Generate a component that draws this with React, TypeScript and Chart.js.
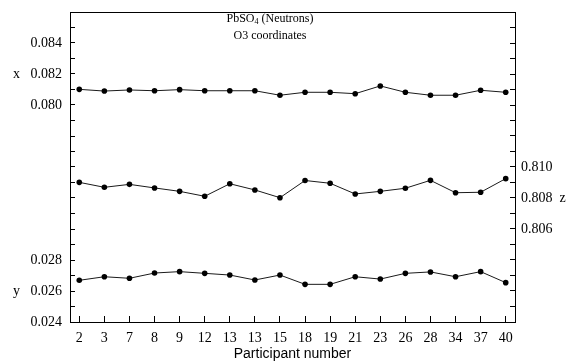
import React, { useEffect, useRef } from 'react';
import { Chart, registerables } from 'chart.js';

Chart.register(...registerables);

// Participant numbers (categories along the bottom axis)
const participants = ['2', '3', '7', '8', '9', '12', '13', '13', '15', '18', '19', '21', '23', '26', '28', '34', '37', '40'];

// O3 x coordinate (upper trace, upper part of left axis)
const xCoord = [0.08101, 0.0809, 0.08097, 0.08092, 0.08099, 0.08092, 0.08092, 0.08092, 0.08063, 0.08082, 0.08082, 0.08073, 0.08123, 0.08082, 0.08063, 0.08063, 0.08095, 0.08082];

// O3 z coordinate (middle trace, right axis)
const zCoord = [0.80901, 0.80869, 0.80888, 0.80865, 0.80843, 0.80811, 0.80892, 0.80852, 0.80802, 0.80913, 0.80895, 0.80826, 0.80843, 0.80863, 0.80914, 0.80834, 0.80837, 0.80925];

// O3 y coordinate (lower trace, lower part of left axis)
const yCoord = [0.02669, 0.02692, 0.02682, 0.02716, 0.02725, 0.02714, 0.02703, 0.02671, 0.02703, 0.02643, 0.02643, 0.02692, 0.02677, 0.02714, 0.02723, 0.02692, 0.02725, 0.02654];

// Labelled tick values
const yTickLabels = [0.024, 0.026, 0.028];
const xTickLabels = [0.08, 0.082, 0.084];
const zTickLabels = [0.806, 0.808, 0.81];

// Axis ranges (in thousandths) – the left axis is broken: the x scale is the y scale shifted
const Y_MIN = 24, Y_MAX = 44;      // y axis 0.024 .. 0.044
const X_SHIFT = 42;                 // x axis = y axis + 0.042
const Z_MIN = 800, Z_MAX = 820;    // z axis 0.800 .. 0.820

const SERIF = "'Liberation Serif', 'Times New Roman', serif";
const SANS = "'Liberation Sans', Arial, sans-serif";

const thousandthTicks = (lo: number, hi: number) => {
  const t: { value: number }[] = [];
  for (let n = lo; n <= hi; n++) t.push({ value: n / 1000 });
  return t;
};

const framePlugin = {
  id: 'frameAndTitle',
  afterDraw(chart: any) {
    const { ctx, chartArea: a } = chart;
    ctx.save();
    ctx.strokeStyle = '#000';
    ctx.lineWidth = 1;
    ctx.beginPath();
    ctx.moveTo(a.left, Math.round(a.top) + 0.5);
    ctx.lineTo(a.right, Math.round(a.top) + 0.5);
    ctx.stroke();

    // Title inside the plot
    ctx.fillStyle = '#000';
    ctx.textBaseline = 'alphabetic';
    const cx = a.left + 200;
    const big = `12px ${SERIF}`;
    const small = `8px ${SERIF}`;
    ctx.font = big;
    const p1 = 'PbSO';
    const p3 = ' (Neutrons)';
    const w1 = ctx.measureText(p1).width;
    const w3 = ctx.measureText(p3).width;
    ctx.font = small;
    const w2 = ctx.measureText('4').width;
    const total = w1 + w2 + w3;
    const x0 = cx - total / 2;
    const base1 = a.top + 10;
    ctx.font = big;
    ctx.textAlign = 'left';
    ctx.fillText(p1, x0, base1);
    ctx.font = small;
    ctx.fillText('4', x0 + w1, base1 + 2);
    ctx.font = big;
    ctx.fillText(p3, x0 + w1 + w2, base1);
    ctx.textAlign = 'center';
    ctx.fillText('O3 coordinates', cx, base1 + 17);
    ctx.restore();
  },
};

export default function App() {
  const ref = useRef<HTMLCanvasElement>(null);

  useEffect(() => {
    if (!ref.current) return;
    Chart.defaults.font.family = SERIF;
    Chart.defaults.color = '#000';
    const idx = participants.map((_, i) => i);
    const lineStyle = {
      borderColor: '#1a1a1a',
      borderWidth: 1,
      pointRadius: 2.8,
      pointBackgroundColor: '#000',
      pointBorderWidth: 0,
      pointHoverRadius: 2.8,
      tension: 0,
      fill: false,
    };
    const chart = new Chart(ref.current, {
      type: 'line',
      data: {
        datasets: [
          { label: 'x', data: idx.map((i) => ({ x: i, y: xCoord[i] })), yAxisID: 'yx', ...lineStyle },
          { label: 'z', data: idx.map((i) => ({ x: i, y: zCoord[i] })), yAxisID: 'yz', ...lineStyle },
          { label: 'y', data: idx.map((i) => ({ x: i, y: yCoord[i] })), yAxisID: 'yy', ...lineStyle },
        ],
      },
      options: {
        animation: false,
        responsive: true,
        maintainAspectRatio: false,
        layout: { padding: { top: 12, left: 0, right: 0, bottom: 0 } },
        plugins: { legend: { display: false }, tooltip: { enabled: false }, title: { display: false } },
        scales: {
          x: {
            type: 'linear',
            min: -0.37,
            max: participants.length - 1 + 0.37,
            afterBuildTicks: (s: any) => {
              s.ticks = idx.map((i) => ({ value: i }));
            },
            afterFit: (s: any) => {
              s.height = 41;
              s.paddingLeft = 0;
              s.paddingRight = 0;
            },
            grid: { drawOnChartArea: false, tickLength: -6, color: '#000', tickWidth: 1 },
            border: { display: true, color: '#000', width: 1 },
            ticks: {
              autoSkip: false,
              maxRotation: 0,
              padding: 14,
              color: '#000',
              font: { size: 14, family: SERIF },
              callback: (v: any) => participants[Math.round(Number(v))] ?? '',
            },
            title: {
              display: true,
              text: 'Participant number',
              color: '#000',
              font: { size: 14, family: SANS },
              padding: { top: 0, bottom: 0 },
            },
          },
          yy: {
            type: 'linear',
            position: 'left',
            min: Y_MIN / 1000,
            max: Y_MAX / 1000,
            afterBuildTicks: (s: any) => {
              s.ticks = thousandthTicks(Y_MIN, Y_MAX);
            },
            afterFit: (s: any) => {
              s.width = 70;
              s.paddingTop = 0;
              s.paddingBottom = 0;
            },
            grid: { drawOnChartArea: false, tickLength: -5, color: '#000' },
            border: { display: true, color: '#000', width: 1 },
            ticks: {
              autoSkip: false,
              padding: 13,
              color: '#000',
              font: { size: 14, family: SERIF },
              callback: (v: any) => {
                const n = Math.round(Number(v) * 1000);
                const yl = yTickLabels.find((t) => Math.round(t * 1000) === n);
                if (yl !== undefined) return (n === 26 ? 'y   ' : '') + yl.toFixed(3);
                const xl = xTickLabels.find((t) => Math.round(t * 1000) === n + X_SHIFT);
                if (xl !== undefined) return (n + X_SHIFT === 82 ? 'x   ' : '') + xl.toFixed(3);
                return '';
              },
            },
          },
          yx: {
            type: 'linear',
            display: false,
            min: (Y_MIN + X_SHIFT) / 1000,
            max: (Y_MAX + X_SHIFT) / 1000,
          },
          yz: {
            type: 'linear',
            position: 'right',
            min: Z_MIN / 1000,
            max: Z_MAX / 1000,
            afterBuildTicks: (s: any) => {
              s.ticks = thousandthTicks(Z_MIN, Z_MAX);
            },
            afterFit: (s: any) => {
              s.width = 56;
              s.paddingTop = 0;
              s.paddingBottom = 0;
            },
            grid: { drawOnChartArea: false, tickLength: -5, color: '#000' },
            border: { display: true, color: '#000', width: 1 },
            ticks: {
              autoSkip: false,
              padding: 11,
              color: '#000',
              font: { size: 14, family: SERIF },
              callback: (v: any) => {
                const n = Math.round(Number(v) * 1000);
                const zl = zTickLabels.find((t) => Math.round(t * 1000) === n);
                if (zl !== undefined) return zl.toFixed(3) + (n === 808 ? '  z' : '');
                return '';
              },
            },
          },
        },
      },
      plugins: [framePlugin],
    } as any);
    return () => chart.destroy();
  }, []);

  return (
    <div style={{ position: 'absolute', left: 0, top: 0, width: 571, height: 363, background: '#fff' }}>
      <canvas ref={ref} />
    </div>
  );
}
